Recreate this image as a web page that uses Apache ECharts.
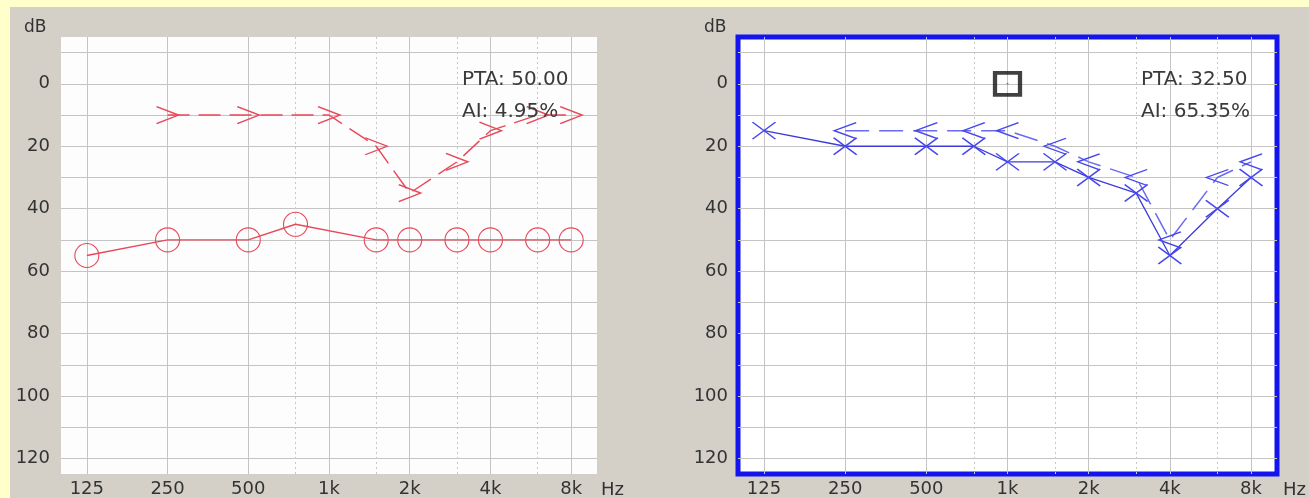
<!DOCTYPE html>
<html><head><meta charset="utf-8">
<script src="https://cdn.jsdelivr.net/npm/echarts@6/dist/echarts.min.js"></script>
<style>html,body{margin:0;padding:0;background:#D4D0C8}#c{width:1309px;height:498px}</style>
</head><body><div id="c"></div>
<script>
// ---- data ----
const octaveFreqs = [125, 250, 500, 1000, 2000, 4000, 8000];
const freqLabels = ['125', '250', '500', '1k', '2k', '4k', '8k'];
const halfOctaveFreqs = [750, 1500, 3000, 6000];
const dbLabels = [0, 20, 40, 60, 80, 100, 120];
const dbGrid = [-10, 0, 10, 20, 30, 40, 50, 60, 70, 80, 90, 100, 110, 120];

// left panel (red)
const leftAirFreq = [125, 250, 500, 750, 1500, 2000, 3000, 4000, 6000, 8000];
const leftAirDb   = [55, 50, 50, 45, 50, 50, 50, 50, 50, 50];
const leftBoneFreq = [250, 500, 1000, 1500, 2000, 3000, 4000, 6000, 8000];
const leftBoneDb   = [10, 10, 10, 20, 35, 25, 15, 10, 10];
const leftStats = ['PTA: 50.00', 'AI: 4.95%'];

// right panel (blue)
const rightAirFreq = [125, 250, 500, 750, 1000, 1500, 2000, 3000, 4000, 6000, 8000];
const rightAirDb   = [15, 20, 20, 20, 25, 25, 30, 35, 55, 40, 30];
const rightBoneFreq = [250, 500, 750, 1000, 1500, 2000, 3000, 4000, 6000, 8000];
const rightBoneDb   = [15, 15, 15, 15, 20, 25, 30, 50, 30, 25];
const rightBoxFreq = [1000];
const rightBoxDb = [0];
const rightStats = ['PTA: 32.50', 'AI: 65.35%'];

// ---- helpers ----
const oct = f => Math.log2(f / 125);
const pts = (fs, ds) => fs.map((f, i) => [oct(f), ds[i]]);
const RED = '#e8485a';
const BLUE = '#4646ee';
const FONT = 'DejaVu Sans';
const T = 'rgba(0,0,0,0)';
const SYM_GT = 'path://M0,0L10,5L0,10';
const SYM_LT = 'path://M10,0L0,5L10,10';
const SYM_X = 'path://M0,0L10,10M10,0L0,10';

function xAxes(gi) {
  return [{
    gridIndex: gi, type: 'value', min: -0.32, max: 6.32, position: 'bottom',
    axisLine: {show: false},
    axisTick: {show: false, customValues: octaveFreqs.map(oct)},
    axisLabel: {customValues: octaveFreqs.map(oct), margin: 6, color: '#333', fontFamily: FONT, fontSize: 18,
      verticalAlign: 'top',
      formatter: v => freqLabels[Math.round(v)]},
    splitLine: {show: true, lineStyle: {color: '#c4c4c4', width: 1}}
  }, {
    gridIndex: gi, type: 'value', min: -0.32, max: 6.32, position: 'top',
    axisLine: {show: false},
    axisTick: {show: false, customValues: halfOctaveFreqs.map(oct)},
    axisLabel: {show: false},
    splitLine: {show: true, lineStyle: {color: '#c8c8c8', width: 1, type: [2, 3]}}
  }];
}
function yAxis(gi, margin) {
  return {
    gridIndex: gi, type: 'value', inverse: true, min: -15, max: 125,
    axisLine: {show: false},
    axisTick: {show: false, customValues: dbGrid},
    axisLabel: {customValues: dbLabels, margin: margin, color: '#333', fontFamily: FONT, fontSize: 18},
    splitLine: {show: true, lineStyle: {color: '#c4c4c4', width: 1}}
  };
}
function statText(x, lines) {
  return lines.map((t, i) => ({
    type: 'text', left: x, top: 70 + i * 32, z: 100,
    style: {text: t, fill: '#3a3a3a', font: '20px "' + FONT + '"'}
  }));
}

const option = {
  animation: false,
  backgroundColor: '#D4D0C8',
  grid: [
    {left: 61, top: 37, width: 536, height: 438, show: true, backgroundColor: '#fdfdfd', borderWidth: 0},
    {left: 738, top: 37, width: 539, height: 438, show: true, backgroundColor: '#ffffff', borderColor: '#1414f0', borderWidth: 5}
  ],
  xAxis: [...xAxes(0), ...xAxes(1)],
  yAxis: [yAxis(0, 11), yAxis(1, 10)],
  series: [
    {type: 'line', xAxisIndex: 0, yAxisIndex: 0, data: pts(leftAirFreq, leftAirDb),
      symbol: 'circle', symbolSize: 24,
      lineStyle: {color: RED, width: 1.4},
      itemStyle: {color: T, borderColor: RED, borderWidth: 1.1}},
    {type: 'line', xAxisIndex: 0, yAxisIndex: 0, data: pts(leftBoneFreq, leftBoneDb),
      symbol: SYM_GT, symbolSize: [22, 17],
      lineStyle: {color: RED, width: 1.4, type: [22, 9]},
      itemStyle: {color: T, borderColor: RED, borderWidth: 1.5}},
    {type: 'line', xAxisIndex: 2, yAxisIndex: 1, data: pts(rightAirFreq, rightAirDb),
      symbol: SYM_X, symbolSize: [23, 17],
      lineStyle: {color: '#3c3cdc', width: 1.3},
      itemStyle: {color: T, borderColor: BLUE, borderWidth: 1.5}},
    {type: 'line', xAxisIndex: 2, yAxisIndex: 1, data: pts(rightBoneFreq, rightBoneDb),
      symbol: SYM_LT, symbolSize: [22, 16],
      lineStyle: {color: '#6a6af2', width: 1.5, type: [24, 10]},
      itemStyle: {color: T, borderColor: BLUE, borderWidth: 1.5}},
    {type: 'scatter', xAxisIndex: 2, yAxisIndex: 1, data: pts(rightBoxFreq, rightBoxDb),
      symbol: 'rect', symbolSize: [25, 22],
      itemStyle: {color: T, borderColor: '#111', borderWidth: 4}},
    {type: 'scatter', xAxisIndex: 2, yAxisIndex: 1, data: pts(rightBoxFreq, rightBoxDb),
      symbol: 'circle', symbolSize: 2, itemStyle: {color: '#d04040'}}
  ],
  graphic: [
    {type: 'rect', shape: {x: 0, y: 0, width: 1309, height: 7}, style: {fill: '#FFFFCC'}, z: 100},
    {type: 'rect', shape: {x: 0, y: 0, width: 10, height: 498}, style: {fill: '#FFFFCC'}, z: 100},
    {type: 'text', left: 24, top: 19, style: {text: 'dB', fill: '#333', font: '17px "' + FONT + '"'}},
    {type: 'text', left: 704, top: 19, style: {text: 'dB', fill: '#333', font: '17px "' + FONT + '"'}},
    {type: 'text', left: 601, top: 481, style: {text: 'Hz', fill: '#333', font: '18px "' + FONT + '"'}},
    {type: 'text', left: 1283, top: 481, style: {text: 'Hz', fill: '#333', font: '18px "' + FONT + '"'}},
    ...statText(462, leftStats),
    ...statText(1141, rightStats)
  ]
};
const chart = echarts.init(document.getElementById('c'));
chart.setOption(option);
</script></body></html>
